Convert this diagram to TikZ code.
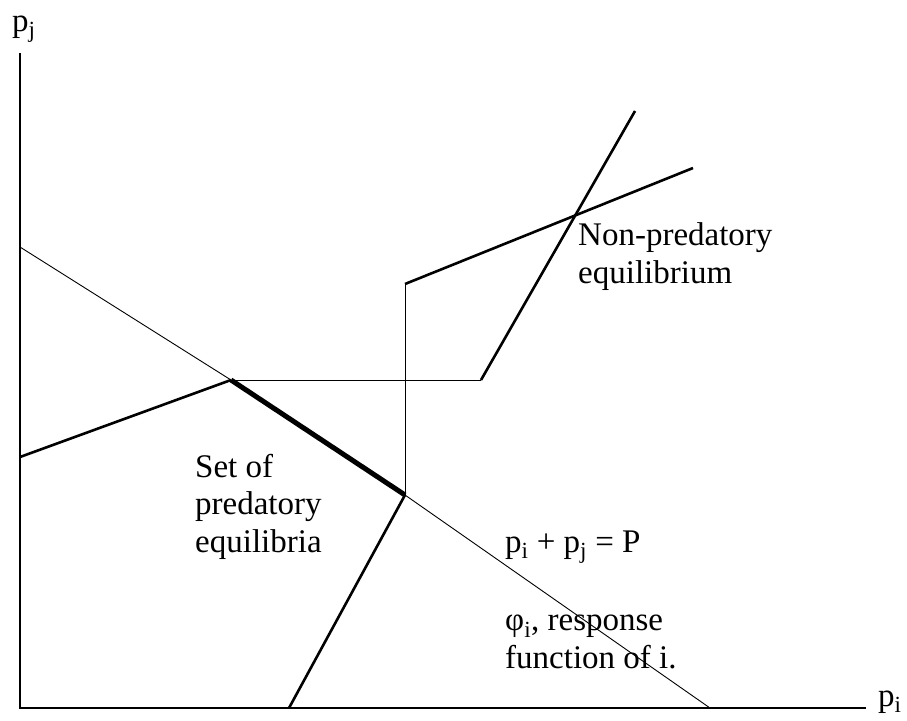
\documentclass[tikz,border=0pt]{standalone}
\usepackage{fontspec}
\setmainfont{Liberation Serif}
\usetikzlibrary{positioning,calc}
\tikzset{
    axisline/.style={
        line width=2pt,           % ejes gruesos
        line cap=butt
    },
    budgetline/.style={
        line width=0.9pt          % recta p_i + p_j = P, fina
    },
    respline/.style={
        line width=2.6pt,         % tramos de las funciones de respuesta
        line join=miter
    },
    linkline/.style={
        line width=1pt            % tramos verticales/horizontales finos
    },
    eqset/.style={
        line width=5pt,           % conjunto de equilibrios depredadores
        line cap=butt
    },
    lbl/.style={
        anchor=base west,         % base de la ultima linea
        inner sep=0pt,
        align=left,
        font=\fontsize{33}{37.5}\selectfont
    }
}

\begin{document}
\begin{tikzpicture}[x=1pt,y=-1pt]
    \useasboundingbox (0,0) rectangle (907,720);

    \coordinate (O) at (20,708);
    \coordinate (ytop) at (20,53);
    \coordinate (xend) at (866,708);

    \coordinate (bl) at (20,247);
    \coordinate (br) at (710,708);
    \coordinate (kA) at (231,380);
    \coordinate (kB) at (405,495);

    \coordinate (rj0) at (20,457);
    \coordinate (rj2) at (481,380);
    \coordinate (rj3) at (635,111);

    \coordinate (ri0) at (289,708);
    \coordinate (ri2) at (405,284);
    \coordinate (ri3) at (693,168);

    \draw[axisline] (ytop) -- (O) -- (xend);

    \draw[budgetline] (bl) -- (kA);
    \draw[budgetline] (kB) -- (br);
    \draw[eqset] (kA) -- (kB);

    \draw[respline] (rj0) -- (kA);
    \draw[linkline] (kA) -- (rj2);
    \draw[respline] (rj2) -- (rj3);

    \draw[respline] (ri0) -- (kB);
    \draw[linkline] (kB) -- (ri2);
    \draw[respline] (ri2) -- (ri3);

    \node[lbl] (pj) at (12,31) {p\textsubscript{j}};
    \node[lbl] (pi) at (878,706) {p\textsubscript{i}};
    \node[lbl] (nonpred) at (578,283) {Non-predatory\\equilibrium};
    \node[lbl] (pred) at (195,552) {Set of\\predatory\\equilibria};
    \node[lbl] (budget) at (505,552) {p\textsubscript{i} + p\textsubscript{j} = P};
    \node[lbl] (phi) at (505,668) {φ\textsubscript{i}, response\\function of i.};
\end{tikzpicture}
\end{document}
